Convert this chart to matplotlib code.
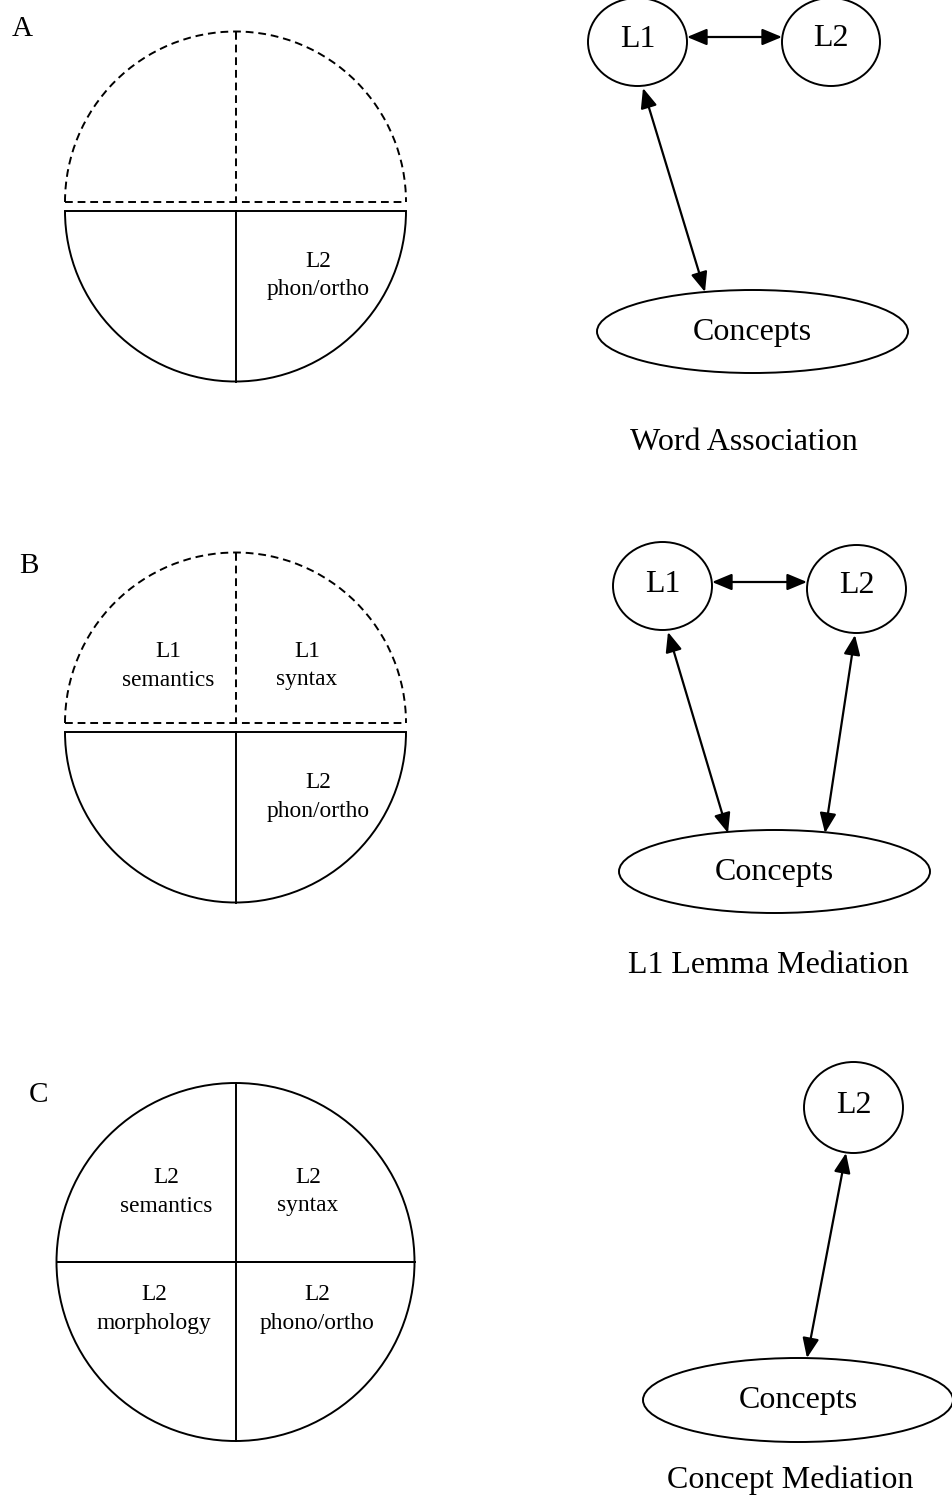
import matplotlib.pyplot as plt
from matplotlib.patches import Arc, Ellipse

plt.rcParams['font.family'] = ['Liberation Serif', 'DejaVu Serif']

# panel letters and captions
panel_letters = ['A', 'B', 'C']
captions = ['Word Association', 'L1 Lemma Mediation', 'Concept Mediation']

# quadrant labels of the lexical entry circles (None = empty quadrant)
# order: upper-left, upper-right, lower-left, lower-right
quadrant_labels = [
    [None, None, None, 'L2\nphon/ortho'],
    ['L1\nsemantics', 'L1\nsyntax', None, 'L2\nphon/ortho'],
    ['L2\nsemantics', 'L2\nsyntax', 'L2\nmorphology', 'L2\nphono/ortho'],
]
# whether the upper half is dashed (not yet acquired)
upper_dashed = [True, True, False]

# links between nodes in each model
links = [
    [('L1', 'L2'), ('L1', 'Concepts')],
    [('L1', 'L2'), ('L1', 'Concepts'), ('L2', 'Concepts')],
    [('L2', 'Concepts')],
]

fig = plt.figure(figsize=(9.52, 14.95), dpi=100)
ax = fig.add_axes([0, 0, 1, 1])
ax.set_xlim(0, 952)
ax.set_ylim(1495, 0)
ax.axis('off')

LW = 1.4
SMALL = 16.8
BIG = 23

# ---- left column: circles ----
letter_pos = [(22, 36), (29, 573), (38, 1102)]   # baselines
circ = [  # cx, upper center y, lower center y, r
    (235.5, 202, 211, 170.5),
    (235.5, 723, 732, 170.5),
    (235.5, 1262, 1262, 179),
]
# x, baseline of first line
label_pos = [
    [None, None, None, (318, 267)],
    [(168, 657), (307, 657), None, (318, 788)],
    [(166, 1183), (308, 1183), (154, 1300), (317, 1300)],
]
LINE_GAP = 28.5

for i in range(3):
    ax.text(*letter_pos[i], panel_letters[i], fontsize=21, ha='center', va='baseline')
    cx, yu, yl, r = circ[i]
    ls_up = (0, (4, 2.5)) if upper_dashed[i] else '-'
    # upper half (screen) -> theta 180..360 with inverted y
    ax.add_patch(Arc((cx, yu), 2 * r, 2 * r, theta1=180, theta2=360, lw=LW, ls=ls_up, color='k'))
    ax.plot([cx - r, cx + r], [yu, yu], color='k', lw=LW, ls=ls_up)
    ax.plot([cx, cx], [yu - r, yu], color='k', lw=LW, ls=ls_up)
    # lower half
    ax.add_patch(Arc((cx, yl), 2 * r, 2 * r, theta1=0, theta2=180, lw=LW, color='k'))
    ax.plot([cx - r, cx + r], [yl, yl], color='k', lw=LW)
    ax.plot([cx, cx], [yl, yl + r], color='k', lw=LW)
    for lab, pos in zip(quadrant_labels[i], label_pos[i]):
        if lab is None:
            continue
        for k, line in enumerate(lab.split('\n')):
            ax.text(pos[0], pos[1] + k * LINE_GAP, line, fontsize=SMALL,
                    ha='center', va='baseline')

# ---- right column: node diagrams ----
nodes = [
    {'L1': (637.5, 42, 49.5, 44), 'L2': (831, 42, 49, 44), 'Concepts': (752.5, 331.5, 155.5, 41.5)},
    {'L1': (662.5, 586, 49.5, 44), 'L2': (856.5, 589, 49.5, 44), 'Concepts': (774.5, 871.5, 155.5, 41.5)},
    {'L2': (853.5, 1107.5, 49.5, 45.5), 'Concepts': (798, 1400, 155, 42)},
]
# text baselines of the node names
node_baselines = [
    {'L1': 47, 'L2': 46, 'Concepts': 340},
    {'L1': 592, 'L2': 593, 'Concepts': 880},
    {'L2': 1113, 'Concepts': 1408},
]
# arrow end points (start at first node, end at second node)
arrow_pts = [
    [((687, 37), (782, 37)), ((643, 88), (705, 292))],
    [((712, 582), (807, 582)), ((668, 632), (728, 833)), ((855, 635), (825, 833))],
    [((846, 1153), (807, 1358))],
]
caption_pos = [(744, 450), (768, 973), (790, 1488)]   # baselines

for i in range(3):
    for name, (x, y, rx, ry) in nodes[i].items():
        ax.add_patch(Ellipse((x, y), 2 * rx, 2 * ry, fill=False, lw=LW, ec='k'))
        ax.text(x, node_baselines[i][name], name, fontsize=BIG, ha='center', va='baseline')
    for (a, b), (p0, p1) in zip(links[i], arrow_pts[i]):
        ax.annotate('', xy=p1, xytext=p0,
                    arrowprops=dict(arrowstyle='<|-|>,head_length=0.6,head_width=0.25',
                                    mutation_scale=20, lw=1.6, color='k',
                                    shrinkA=0, shrinkB=0))
    ax.text(*caption_pos[i], captions[i], fontsize=BIG, ha='center', va='baseline')

fig.savefig('out.png', dpi=100)
